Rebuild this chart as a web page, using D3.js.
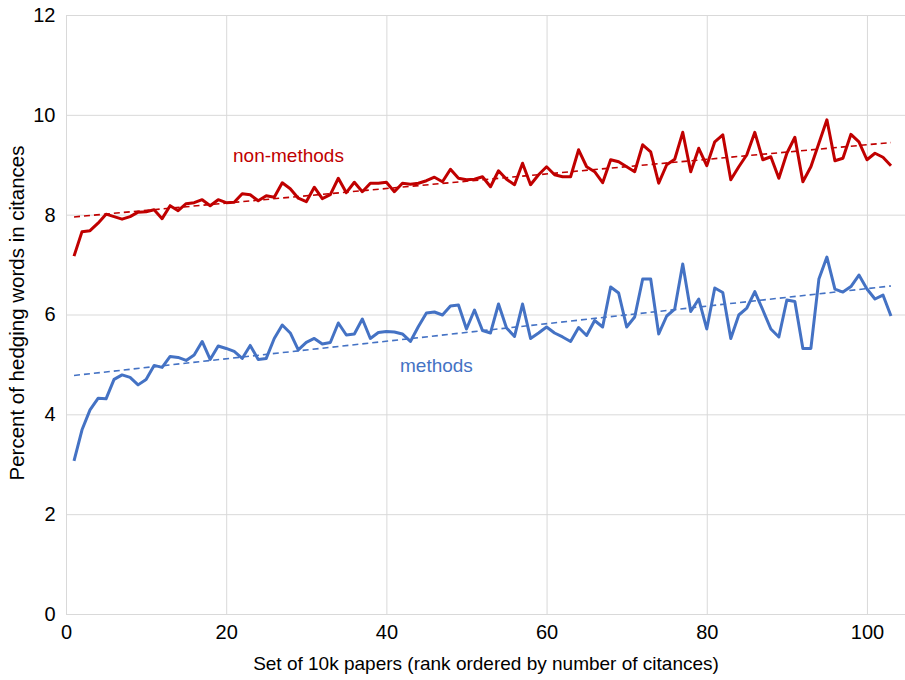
<!DOCTYPE html>
<html>
<head>
<meta charset="utf-8">
<script src="https://cdn.jsdelivr.net/npm/d3@7"></script>
<style>
  body { margin: 0; background: #fff; }
  text { font-family: "Liberation Sans Narrow", "Arial Narrow", "Liberation Sans", Arial, sans-serif; }
</style>
</head>
<body>
<div id="grafico"></div>
<script>

// valores (x = 1..103)
var non_methods = [7.17, 7.66, 7.68, 7.83, 8.01, 7.96, 7.91, 7.96, 8.05, 8.06,
  8.10, 7.92, 8.18, 8.08, 8.22, 8.24, 8.30, 8.18, 8.30, 8.24,
  8.25, 8.42, 8.40, 8.28, 8.38, 8.35, 8.64, 8.52, 8.33, 8.26,
  8.55, 8.32, 8.40, 8.73, 8.44, 8.65, 8.46, 8.63, 8.63, 8.65,
  8.46, 8.63, 8.61, 8.63, 8.68, 8.75, 8.66, 8.91, 8.73, 8.70,
  8.71, 8.76, 8.56, 8.88, 8.71, 8.60, 9.03, 8.60, 8.80, 8.96,
  8.80, 8.76, 8.76, 9.30, 8.96, 8.86, 8.64, 9.10, 9.06, 8.96,
  8.86, 9.40, 9.26, 8.63, 9.00, 9.11, 9.65, 8.86, 9.33, 8.98,
  9.46, 9.60, 8.70, 8.96, 9.20, 9.65, 9.10, 9.16, 8.73, 9.23,
  9.55, 8.66, 8.96, 9.43, 9.90, 9.08, 9.13, 9.61, 9.46, 9.10,
  9.23, 9.15, 8.98];

var methods = [3.07, 3.69, 4.09, 4.32, 4.31, 4.70, 4.79, 4.74, 4.59, 4.70,
  4.98, 4.94, 5.16, 5.14, 5.08, 5.19, 5.46, 5.10, 5.37, 5.32,
  5.26, 5.12, 5.38, 5.10, 5.12, 5.52, 5.79, 5.63, 5.29, 5.44,
  5.52, 5.41, 5.44, 5.83, 5.59, 5.61, 5.91, 5.52, 5.64, 5.66,
  5.65, 5.61, 5.46, 5.76, 6.03, 6.05, 5.99, 6.17, 6.19, 5.71,
  6.09, 5.68, 5.63, 6.21, 5.73, 5.56, 6.21, 5.52, 5.63, 5.75,
  5.63, 5.55, 5.46, 5.74, 5.58, 5.88, 5.75, 6.55, 6.43, 5.75,
  5.95, 6.71, 6.71, 5.61, 5.97, 6.11, 7.01, 6.06, 6.31, 5.71,
  6.53, 6.44, 5.52, 5.99, 6.13, 6.46, 6.09, 5.71, 5.55, 6.29,
  6.26, 5.32, 5.32, 6.71, 7.15, 6.51, 6.45, 6.56, 6.79, 6.51,
  6.31, 6.39, 5.97];

var x_ticks = [0, 20, 40, 60, 80, 100];
var y_ticks = [0, 2, 4, 6, 8, 10, 12];

function desenha_grafico(){

    var width = 905;
    var height = 680;
    var cor_vermelho = '#c00000';
    var cor_azul = '#4472c4';

    var svg = d3.select("#grafico")
                .append("svg")
                .attr("width", width)
                .attr("height", height);

    var x = d3.scaleLinear()
              .domain([0, 105])
              .range([66, 907]);

    var y = d3.scaleLinear()
              .domain([0, 12])
              .range([614, 15]);

    // grade
    svg.append("g")
        .selectAll("line")
        .data(y_ticks.slice(1))
        .enter()
        .append("line")
        .attr("x1", x(0))
        .attr("x2", width)
        .attr("y1", d => y(d) + 0.5)
        .attr("y2", d => y(d) + 0.5)
        .style("stroke", "#d9d9d9")
        .style("stroke-width", 1);

    svg.append("g")
        .selectAll("line")
        .data(x_ticks.slice(1))
        .enter()
        .append("line")
        .attr("x1", d => x(d) + 0.5)
        .attr("x2", d => x(d) + 0.5)
        .attr("y1", y(12))
        .attr("y2", y(0))
        .style("stroke", "#d9d9d9")
        .style("stroke-width", 1);

    // eixos
    var xAxis = d3.axisBottom(x).tickValues(x_ticks).tickSize(0).tickPadding(10);
    var yAxis = d3.axisLeft(y).tickValues(y_ticks).tickSize(0).tickPadding(11);

    var gx = svg.append("g")
        .attr("transform", "translate(0," + (y(0) + 0.5) + ")")
        .call(xAxis);
    gx.select(".domain").remove();
    gx.append("line")
        .attr("x1", x(0)).attr("x2", width)
        .style("stroke", "#d9d9d9");

    var gy = svg.append("g")
        .attr("transform", "translate(" + (x(0) + 0.5) + ",0)")
        .call(yAxis);
    gy.select(".domain").remove();
    gy.append("line")
        .attr("y1", y(12)).attr("y2", y(0))
        .style("stroke", "#d9d9d9");

    svg.selectAll(".tick text")
        .style("font-size", "20px")
        .style("fill", "#000");

    // titulos
    svg.append("text")
        .attr("x", 486)
        .attr("y", 670)
        .attr("text-anchor", "middle")
        .style("font-size", "19px")
        .text("Set of 10k papers (rank ordered by number of citances)");

    svg.append("text")
        .attr("transform", "translate(24,313) rotate(-90)")
        .attr("text-anchor", "middle")
        .style("font-size", "20.5px")
        .text("Percent of hedging words in citances");

    // tendencia (minimos quadrados)
    function tendencia(valores){
        var n = valores.length;
        var sx = 0, sy = 0, sxx = 0, sxy = 0;
        valores.forEach(function(v, i){
            var xi = i + 1;
            sx += xi; sy += v; sxx += xi * xi; sxy += xi * v;
        });
        var b = (n * sxy - sx * sy) / (n * sxx - sx * sx);
        var a = (sy - b * sx) / n;
        return [[1, a + b], [n, a + b * n]];
    }

    var linha = d3.line()
        .x(d => x(d[0]))
        .y(d => y(d[1]));

    var series = [
        {valores: non_methods, cor: cor_vermelho},
        {valores: methods, cor: cor_azul}
    ];

    series.forEach(function(s){
        svg.append("path")
            .datum(tendencia(s.valores))
            .attr("d", linha)
            .style("fill", "none")
            .style("stroke", s.cor)
            .style("stroke-width", 1.6)
            .style("stroke-dasharray", "6,4");

        svg.append("path")
            .datum(s.valores.map((v, i) => [i + 1, v]))
            .attr("d", linha)
            .style("fill", "none")
            .style("stroke", s.cor)
            .style("stroke-width", 3)
            .style("stroke-linejoin", "round");
    });

    // rotulos
    svg.append("text")
        .attr("x", 233)
        .attr("y", 162)
        .style("font-size", "19px")
        .style("fill", cor_vermelho)
        .text("non-methods");

    svg.append("text")
        .attr("x", 400)
        .attr("y", 372)
        .style("font-size", "19px")
        .style("fill", cor_azul)
        .text("methods");
}

desenha_grafico();
</script>
</body>
</html>
